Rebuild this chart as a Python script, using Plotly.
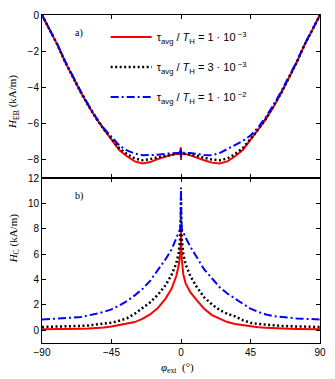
import plotly.graph_objects as go

PHI = [-90, -85, -80, -75, -70, -65, -60, -55, -50, -45, -40, -35, -30, -25, -20, -15, -10,
       -6, -3, -1.5, -0.5, -0.1, 0, 0.1, 0.5, 1.5, 3, 6,
       10, 15, 20, 25, 30, 35, 40, 45, 50, 55, 60, 65, 70, 75, 80, 85, 90]

HEB_RED = [0, -0.8, -1.65, -2.6, -3.45, -4.25, -5.0, -5.7, -6.3, -6.85, -7.45, -7.8, -8.08, -8.2, -8.12, -7.95, -7.8,
           -7.72, -7.68, -7.66, -7.65, -7.3, -8.0, -7.62, -7.65, -7.66, -7.68, -7.75,
           -7.88, -8.02, -8.15, -8.2, -8.08, -7.8, -7.45, -6.9, -6.35, -5.75, -5.05, -4.3, -3.45, -2.6, -1.65, -0.8, 0]
HEB_BLACK = [0, -0.8, -1.65, -2.6, -3.45, -4.25, -5.0, -5.7, -6.3, -6.82, -7.35, -7.68, -7.92, -8.02, -7.96, -7.85, -7.76,
             -7.7, -7.67, -7.65, -7.64, -7.5, -7.8, -7.6, -7.64, -7.65, -7.67, -7.7,
             -7.76, -7.88, -7.98, -8.02, -7.92, -7.68, -7.35, -6.85, -6.32, -5.72, -5.02, -4.28, -3.45, -2.6, -1.65, -0.8, 0]
HEB_BLUE = [0, -0.78, -1.62, -2.55, -3.4, -4.2, -4.95, -5.65, -6.25, -6.75, -7.2, -7.48, -7.65, -7.74, -7.74, -7.72, -7.66,
            -7.62, -7.6, -7.6, -7.6, -7.4, -7.85, -7.55, -7.6, -7.6, -7.6, -7.62,
            -7.66, -7.73, -7.74, -7.62, -7.4, -7.18, -6.95, -6.65, -6.2, -5.62, -4.95, -4.2, -3.4, -2.55, -1.62, -0.78, 0]

HC_RED = [0.08, 0.08, 0.1, 0.1, 0.12, 0.13, 0.15, 0.18, 0.22, 0.3, 0.4, 0.5, 0.65, 0.9, 1.25, 1.75, 2.5,
          3.3, 4.3, 5.1, 6.0, 7.0, 8.0, 6.8, 5.6, 4.4, 3.7, 3.0,
          2.4, 1.7, 1.2, 0.9, 0.65, 0.5, 0.4, 0.3, 0.24, 0.2, 0.16, 0.14, 0.12, 0.1, 0.1, 0.08, 0.08]
HC_BLACK = [0.26, 0.27, 0.28, 0.3, 0.32, 0.35, 0.38, 0.44, 0.5, 0.6, 0.75, 0.95, 1.3, 1.75, 2.2, 2.8, 3.55,
            4.4, 5.3, 6.1, 7.3, 8.8, 10.5, 8.8, 7.2, 6.0, 5.2, 4.3,
            3.45, 2.6, 2.05, 1.6, 1.3, 1.1, 0.8, 0.6, 0.5, 0.44, 0.38, 0.35, 0.32, 0.3, 0.28, 0.27, 0.26]
HC_BLUE = [0.86, 0.88, 0.9, 0.95, 1.0, 1.05, 1.15, 1.3, 1.45, 1.65, 1.95, 2.3, 2.75, 3.25, 3.9, 4.75, 5.6,
           6.4, 7.2, 7.7, 8.0, 9.5, 11.25, 9.5, 8.0, 7.7, 7.3, 6.6,
           5.8, 4.8, 4.1, 3.4, 2.9, 2.5, 2.05, 1.7, 1.45, 1.25, 1.12, 1.05, 0.98, 0.93, 0.9, 0.88, 0.86]

NAMES = ["τ<sub>avg</sub> / <i>T</i><sub>H</sub> = 1 · 10<sup> −3</sup>",
         "τ<sub>avg</sub> / <i>T</i><sub>H</sub> = 3 · 10<sup> −3</sup>",
         "τ<sub>avg</sub> / <i>T</i><sub>H</sub> = 1 · 10<sup> −2</sup>"]
COLORS = ["#ff0000", "#000000", "#0000ff"]
DASHES = ["solid", "2px,2.5px", "8px,3px,2px,3px"]
WIDTHS = [2, 2.5, 2]

X_TICKS = [-90, -45, 0, 45, 90]

fig = go.Figure()
top = [HEB_RED, HEB_BLACK, HEB_BLUE]
bot = [HC_RED, HC_BLACK, HC_BLUE]
for i in range(3):
    fig.add_trace(go.Scatter(x=PHI, y=top[i], mode="lines", name=NAMES[i],
                             legendgroup=f"g{i}", xaxis="x", yaxis="y",
                             line=dict(color=COLORS[i], width=WIDTHS[i], dash=DASHES[i])))
for i in range(3):
    fig.add_trace(go.Scatter(x=PHI, y=bot[i], mode="lines", name=NAMES[i],
                             legendgroup=f"g{i}", showlegend=False, xaxis="x2", yaxis="y2",
                             line=dict(color=COLORS[i], width=WIDTHS[i], dash=DASHES[i])))

axis_common = dict(showline=True, linecolor="black", linewidth=1, mirror="ticks",
                   ticks="inside", ticklen=4, tickcolor="black", showgrid=False, zeroline=False,
                   tickfont=dict(family="Liberation Sans", size=10, color="black"))

fig.update_layout(
    width=335, height=379,
    margin=dict(l=42, r=9, t=12, b=36),
    paper_bgcolor="white", plot_bgcolor="white",
    xaxis=dict(domain=[0, 1], range=[-90, 90], tickvals=X_TICKS, showticklabels=False,
               anchor="y", **axis_common),
    yaxis=dict(domain=[0.503, 1], range=[-9, 0], tickvals=[-8, -6, -4, -2, 0], anchor="x",
               **axis_common),
    xaxis2=dict(domain=[0, 1], range=[-90, 90], tickvals=X_TICKS, anchor="y2",
                ticktext=["−90", "−45", "0", "45", "90"], **axis_common),
    yaxis2=dict(domain=[0, 0.503], range=[-1, 12], tickvals=[0, 2, 4, 6, 8, 10, 12], anchor="x2",
                **axis_common),
    showlegend=True,
    legend=dict(x=0.229, y=0.977, xanchor="left", yanchor="top", bgcolor="rgba(0,0,0,0)",
                font=dict(family="Liberation Sans", size=11, color="black"),
                itemwidth=41, tracegroupgap=11),
    annotations=[
        dict(text="<i>H</i><sub>EB</sub> (kA/m)", xref="paper", yref="paper", x=-0.102, y=0.734,
             textangle=-90, showarrow=False, xanchor="center", yanchor="middle",
             font=dict(family="Liberation Serif", size=11, color="black")),
        dict(text="<i>H</i><sub>C</sub> (kA/m)", xref="paper", yref="paper", x=-0.102, y=0.318,
             textangle=-90, showarrow=False, xanchor="center", yanchor="middle",
             font=dict(family="Liberation Serif", size=11, color="black")),
        dict(text="<i>φ</i><sub>ext</sub>  (°)", xref="paper", yref="paper", x=0.486, y=-0.075,
             showarrow=False, xanchor="center", yanchor="middle",
             font=dict(family="Liberation Serif", size=11, color="black")),
        dict(text="a)", xref="paper", yref="paper", x=0.134, y=0.946, showarrow=False,
             xanchor="center", yanchor="middle",
             font=dict(family="Liberation Serif", size=10, color="black")),
        dict(text="b)", xref="paper", yref="paper", x=0.134, y=0.448, showarrow=False,
             xanchor="center", yanchor="middle",
             font=dict(family="Liberation Serif", size=10, color="black")),
    ],
)

fig.write_html("out.html", config={"displayModeBar": False},
               post_script="document.body.style.margin='0';document.body.style.overflow='hidden';")
